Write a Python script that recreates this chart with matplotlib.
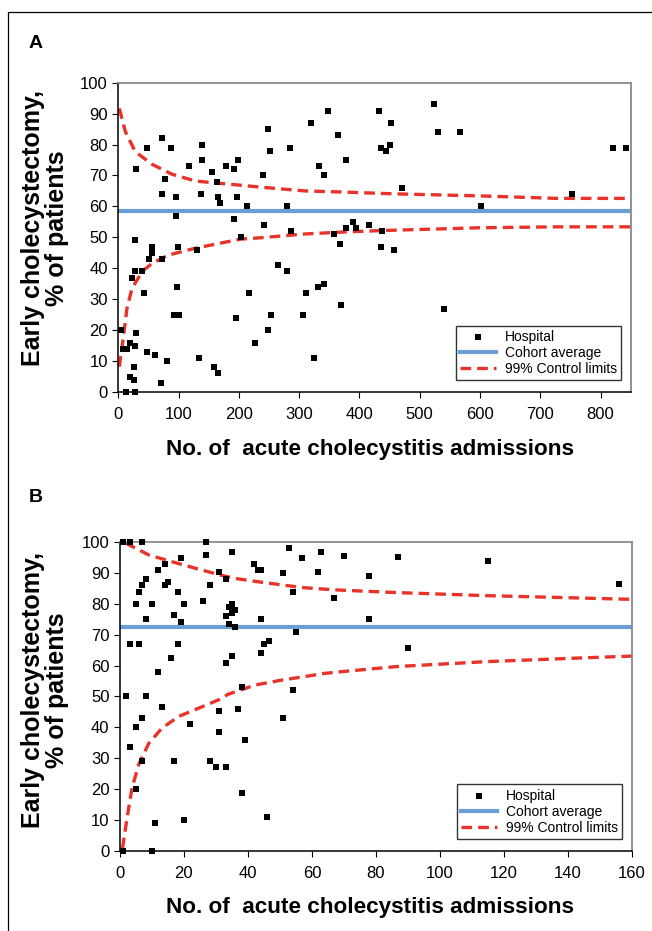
import matplotlib
matplotlib.use("Agg")
import matplotlib.pyplot as plt
from matplotlib.lines import Line2D

plt.rcParams["font.family"] = ["Liberation Sans", "DejaVu Sans"]

# ---- Panel A data: all admissions ----
a_x = [72, 47, 87, 139, 30, 117, 138, 77, 156, 179, 192, 199, 163, 72, 96, 137, 165, 197,
       168, 96, 192, 28, 56, 99, 131, 56, 51, 72, 28, 39, 23, 98, 43, 92, 101, 195, 4, 30,
       8, 20, 15, 28, 47, 60, 81, 134, 26, 159, 166, 20, 26, 71, 12, 28,
       347, 433, 320, 248, 364, 251, 285, 436, 333, 377, 240, 341, 214, 280, 242, 390, 377,
       395, 415, 286, 357, 438, 203, 367, 436, 264, 280, 341, 332, 216, 311, 369, 253, 306,
       248, 227, 324,
       523, 453, 530, 566, 444, 450, 471, 601, 457, 541,
       752, 820, 843]
a_y = [82, 79, 79, 80, 72, 73, 75, 69, 71, 73, 72, 75, 68, 64, 63, 64, 63, 63,
       61, 57, 56, 49, 47, 47, 46, 45, 43, 43, 39, 39, 37, 34, 32, 25, 25, 24, 20, 19,
       14, 16, 14, 15, 13, 12, 10, 11, 8, 8, 6, 5, 4, 3, 0, 0,
       91, 91, 87, 85, 83, 78, 79, 79, 73, 75, 70, 70, 60, 60, 54, 55, 53,
       53, 54, 52, 51, 52, 50, 48, 47, 41, 39, 35, 34, 32, 32, 28, 25, 25,
       20, 16, 11,
       93, 87, 84, 84, 78, 80, 66, 60, 46, 27,
       64, 79, 79]
a_avg = 58.6
a_lim_x = [1.5, 11.5, 28, 56, 89, 128, 200, 238, 310, 381, 437, 472, 600, 727, 850]
a_upper = [91.7, 84.2, 77.7, 73.6, 70.4, 68.2, 66.9, 66.2, 65.0, 64.6, 64.2, 64.0, 63.4, 62.6, 62.6]
a_low_x = [1.5, 8.7, 14.2, 22.6, 39.2, 55.7, 83.4, 127.6, 202, 238, 310, 381, 437, 472, 600,
           727, 850]
a_lower = [8.2, 18.4, 27.1, 33.5, 38.9, 41.6, 44.3, 46.5, 49.4, 49.9, 51.1, 51.8, 52.2, 52.4, 53.1,
           53.4, 53.4]

# ---- Panel B data ----
b_x = [1, 3, 7, 27, 19, 27, 14, 12, 31, 8, 7, 14, 15, 28, 6, 18, 5, 10, 20, 26, 17, 8, 19,
       3, 6, 18, 16, 12, 2, 8, 13, 31, 7, 5, 22, 31, 3, 7, 17, 28, 30, 5, 11, 20, 1, 10,
       35, 53, 63, 57, 42, 43, 44, 51, 62, 33, 54, 67, 34, 35, 36, 35, 33, 44, 34, 36, 55,
       46.5, 45, 44, 35, 33, 38, 54, 37, 51, 39, 33, 38, 46,
       70, 87, 115, 78, 156, 78, 90]
b_y = [100, 100, 100, 100, 95, 96, 93, 91, 90.5, 88, 86, 86, 87, 86, 84, 84, 80, 80, 80, 81,
       76.5, 75, 74, 67, 67, 67, 62.5, 58, 50, 50, 46.5, 45.4, 43, 40, 41, 38.6, 33.5, 29,
       29, 29, 27, 20, 9, 10, 0, 0,
       97, 98, 97, 95, 93, 91, 91, 90, 90.5, 88, 84, 82, 79, 80, 78, 77, 76, 75, 73.5, 72.5,
       71, 68, 67, 64, 63, 61, 53, 52, 46, 43, 36, 27, 18.6, 11,
       95.7, 95.3, 94, 89, 86.6, 75, 65.6]
b_avg = 72.6
b_lim_x = [1.7, 9, 16.3, 23.5, 31.3, 35.9, 43.2, 50.5, 57.3, 64.1, 68.8, 86.4, 114.6, 141.6, 160]
b_upper = [99.8, 95.9, 93.7, 91.6, 89.4, 88.3, 87.2, 86.2, 85.3, 84.8, 84.5, 83.7, 82.7, 82.0, 81.5]
b_low_x = [0.8, 2.2, 3.75, 5.8, 9.0, 13.1, 18.3, 24.6, 30.8, 33.8, 42.2, 50.5, 57.3, 64.1,
           68.8, 86.4, 114.6, 141.6, 160]
b_lower = [0.8, 10.5, 20.2, 27.8, 34.8, 39.7, 43.5, 46.2, 48.9, 50.7, 53.7, 55.3, 56.4, 57.5,
           58.0, 59.7, 61.3, 62.4, 63.1]

RED = "#e8332b"
BLUE = "#6a9fd6"
XLABEL = "No. of  acute cholecystitis admissions"
YLABEL = "Early cholecystectomy,\n% of patients"


def draw_panel(ax, xs, ys, avg, lim_x, upper, low_x, lower, xmax, xstep):
    ax.scatter(xs, ys, marker="s", s=24, color="black", linewidths=0, zorder=3,
               label="Hospital", clip_on=False)
    ax.axhline(avg, color=BLUE, lw=3, zorder=2, label="Cohort average")
    ax.plot(lim_x, upper, color=RED, lw=2.4, dashes=(3.2, 1.8), zorder=2,
            label="99% Control limits")
    ax.plot(low_x, lower, color=RED, lw=2.4, dashes=(3.2, 1.8), zorder=2)
    ax.set_xlim(0, xmax)
    ax.set_ylim(0, 100)
    ax.set_xticks(range(0, xmax + 1 if xmax % xstep == 0 else xmax, xstep))
    ax.set_yticks(range(0, 101, 10))
    ax.tick_params(labelsize=12, length=4, width=0.8, colors="black")
    ax.tick_params(axis="x", pad=7)
    for side in ["left", "bottom"]:
        ax.spines[side].set_color("black")
        ax.spines[side].set_linewidth(1.1)
    for side in ["top", "right"]:
        ax.spines[side].set_color("#8a8a8a")
        ax.spines[side].set_linewidth(1.3)
    leg = ax.legend(loc="lower right", bbox_to_anchor=(0.981, 0.038), fontsize=10,
                    fancybox=False, framealpha=1, edgecolor="#333333",
                    handlelength=2.6, borderpad=0.3, labelspacing=0.15,
                    handletextpad=0.6, borderaxespad=0)
    leg.get_frame().set_linewidth(1.0)


fig = plt.figure(figsize=(6.52, 9.31), dpi=100)
ax_a = fig.add_axes([0.1816, 0.5789, 0.9673 - 0.1816, 0.9112 - 0.5789])
ax_b = fig.add_axes([0.184, 0.0863, 0.9689 - 0.184, 0.4175 - 0.0863])

draw_panel(ax_a, a_x, a_y, a_avg, a_lim_x, a_upper, a_low_x, a_lower, 850, 100)
draw_panel(ax_b, b_x, b_y, b_avg, b_lim_x, b_upper, b_low_x, b_lower, 160, 20)

for ax, ylab_y, xlab_y, letter_y, letter in [(ax_a, 228, 449, 44, "A"),
                                              (ax_b, 690, 908, 497, "B")]:
    fig.text(370 / 652, 1 - xlab_y / 931, XLABEL, ha="center", va="center",
             fontsize=16.2, fontweight="bold")
    fig.text(45 / 652, 1 - ylab_y / 931, YLABEL, ha="center", va="center",
             rotation=90, fontsize=18, fontweight="bold", linespacing=0.95)
    fig.text(36 / 652, 1 - letter_y / 931, letter, ha="center", va="center",
             fontsize=14, fontweight="bold")

# outer frame (top and left edges)
fig.add_artist(Line2D([8 / 652, 8 / 652, 1.0], [0.0, 1 - 12 / 931, 1 - 12 / 931],
                      transform=fig.transFigure, color="black", lw=0.9))

fig.savefig("out.png", dpi=100)
